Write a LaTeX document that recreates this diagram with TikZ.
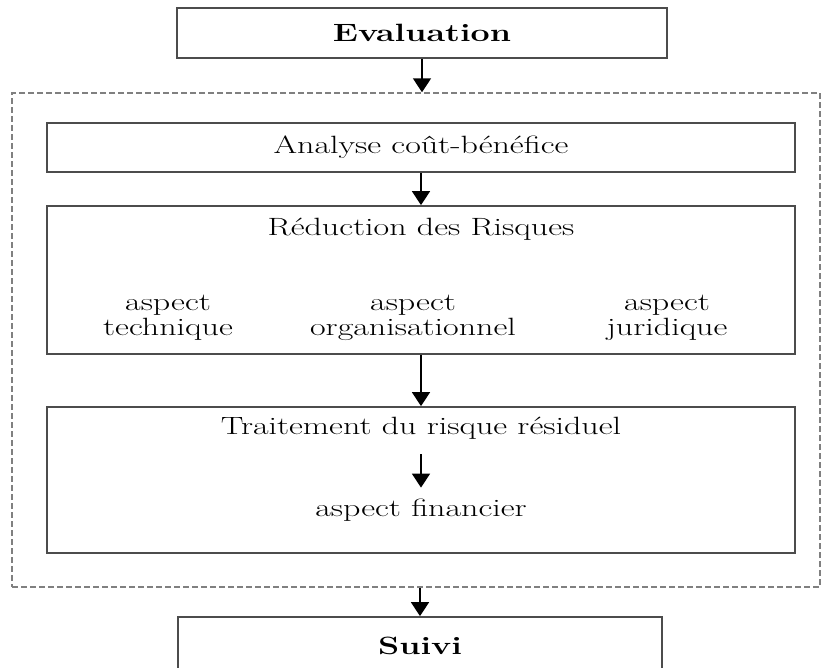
\documentclass[tikz,border=0pt]{standalone}
\usetikzlibrary{arrows.meta}
\begin{document}
\begin{tikzpicture}[x=1pt,y=-1pt,
  box/.style={draw=black!70, line width=1.8pt, fill=white, inner sep=0pt},
  group/.style={draw=black!50, line width=1.5pt, dash pattern=on 6pt off 3pt, inner sep=0pt},
  txt/.style={font=\fontsize{25}{25}\selectfont, align=center, inner sep=0pt,
              xscale=1.36, transform shape, text=black},
  btxt/.style={txt, font=\fontsize{25}{25}\selectfont\bfseries},
  arr/.style={line width=1.8pt, -{Triangle[width=18pt,length=14pt]}}]
\useasboundingbox (0,0) rectangle (822,667);

% dashed frame around the risk treatment steps
\node[group, minimum width=808pt, minimum height=494pt] (grp) at (416,340) {};

% boxes
\node[box, minimum width=490pt, minimum height=50pt]  (eval) at (422,33)   {};
\node[box, minimum width=748pt, minimum height=49pt]  (ana)  at (421,147.5) {};
\node[box, minimum width=748pt, minimum height=148pt] (red)  at (421,280)  {};
\node[box, minimum width=748pt, minimum height=146pt] (trt)  at (421,480)  {};
\node[box, minimum width=484pt, minimum height=58pt]  (suivi) at (420,646) {};

% texts
\node[btxt] (evalt) at (eval) {Evaluation};
\node[txt]  (anat)  at (ana)  {Analyse coût-bénéfice};
\node[txt]  (redt)  at (421,229) {Réduction des Risques};
\node[txt]  (tech)  at (168,318) {aspect\\technique};
\node[txt]  (orga)  at (413,318) {aspect\\organisationnel};
\node[txt]  (juri)  at (667,318) {aspect\\juridique};
\node[txt]  (trtt)  at (421,428) {Traitement du risque résiduel};
\node[txt]  (fin)   at (421,510) {aspect financier};
\node[btxt] (suivit) at (suivi) {Suivi};

% connectors
\draw[arr] (eval.south) -- (eval.south |- grp.north);
\draw[arr] (ana.south) -- (red.north);
\draw[arr] (red.south) -- (trt.north);
\draw[arr] ([yshift=-15pt]trtt.south) -- ([yshift=11pt]fin.north);
\draw[arr] (suivi.north |- grp.south) -- (suivi.north);
\end{tikzpicture}
\end{document}
